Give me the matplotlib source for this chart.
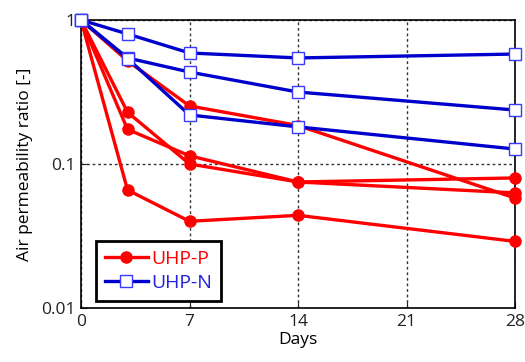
import matplotlib
matplotlib.use('Agg')
import matplotlib.pyplot as plt
import numpy as np

plt.rcParams['font.family'] = ['Open Sans', 'DejaVu Sans']

days = [0, 3, 7, 14, 28]

# UHP-P specimens (red, filled circles)
uhp_p = [
    [1.0, 0.52, 0.253, 0.185, 0.058],
    [1.0, 0.229, 0.100, 0.075, 0.063],
    [1.0, 0.174, 0.114, 0.075, 0.080],
    [1.0, 0.066, 0.040, 0.044, 0.029],
]

# UHP-N specimens (blue, open squares)
uhp_n = [
    [1.0, 0.80, 0.59, 0.545, 0.58],
    [1.0, 0.545, 0.435, 0.316, 0.237],
    [1.0, 0.54, 0.219, 0.181, 0.127],
]

xticks = [0, 7, 14, 21, 28]
yticks = [0.01, 0.1, 1]
ytick_labels = ['0.01', '0.1', '1']

fig = plt.figure(figsize=(5.25, 3.62), dpi=100)
ax = fig.add_axes([0.1543, 0.1492, 0.8267, 0.7956])

red = '#ff0000'
blue = '#0000cc'

for k, vals in enumerate(uhp_p):
    ax.plot(days, vals, '-', color=red, linewidth=2.4, marker='o', markersize=8,
            markerfacecolor=red, markeredgecolor=red, clip_on=False, zorder=3,
            label='UHP-P' if k == 0 else None)
for k, vals in enumerate(uhp_n):
    ax.plot(days, vals, '-', color=blue, linewidth=2.4, marker='s', markersize=8,
            markerfacecolor='white', markeredgecolor='#3a3aff', markeredgewidth=1.0,
            clip_on=False, zorder=4, label='UHP-N' if k == 0 else None)

ax.set_yscale('log')
ax.set_xlim(0, 28)
ax.set_ylim(0.01, 1)
ax.set_xticks(xticks)
ax.set_xticklabels([str(t) for t in xticks])
ax.set_yticks(yticks)
ax.set_yticklabels(ytick_labels)
ax.yaxis.set_minor_locator(matplotlib.ticker.NullLocator())
ax.tick_params(direction='in', length=4, labelsize=12.5, pad=4, colors='#222222')
ax.grid(True, linestyle=(0, (2, 2)), color='#333333', linewidth=1.0)
for s in ax.spines.values():
    s.set_linewidth(1.2)

ax.set_xlabel('Days', fontsize=12.5, labelpad=2)
ax.set_ylabel('Air permeability ratio [-]', fontsize=12.5, labelpad=6)

leg = ax.legend(loc='lower left', bbox_to_anchor=(0.035, 0.025), fontsize=14,
                fancybox=False, framealpha=1, edgecolor='black', handlelength=2.2,
                borderpad=0.45, labelspacing=0.3, handletextpad=0.2, borderaxespad=0)
leg.get_frame().set_linewidth(2)
leg.texts[0].set_color(red)
leg.texts[1].set_color('#2222dd')

fig.savefig('out.png', dpi=100)
